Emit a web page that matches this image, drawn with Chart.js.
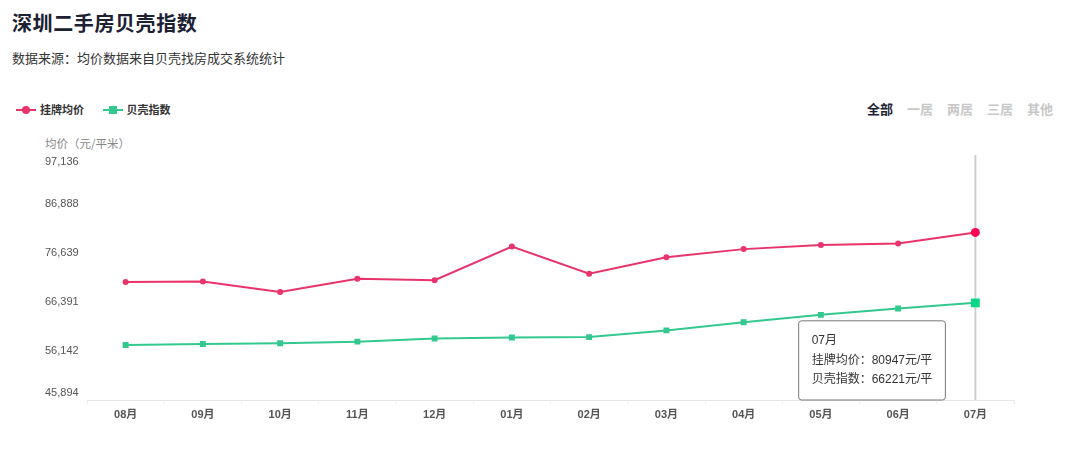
<!DOCTYPE html>
<html>
<head>
<meta charset="utf-8">
<script src="https://cdn.jsdelivr.net/npm/chart.js@4"></script>
<style>
  body { margin:0; width:1080px; height:459px; background:#fff; overflow:hidden;
         font-family:"Liberation Sans","Noto Sans CJK SC",sans-serif; position:relative; }
  .title { position:absolute; left:12px; top:8px; font-size:20px; font-weight:bold; color:#1b2033;
           font-family:"Noto Sans CJK SC",sans-serif; letter-spacing:0.6px; }
  .sub { position:absolute; left:12px; top:48px; font-size:13px; color:#333;
         font-family:"Noto Sans CJK SC",sans-serif; }
  .legend { position:absolute; top:101px; left:16px; font-size:11px; font-weight:bold; color:#333;
            font-family:"Noto Sans CJK SC",sans-serif; }
  .legend span.item { display:inline-block; margin-right:16px; }
  .mk { display:inline-block; position:relative; width:20px; height:10px; vertical-align:middle; margin-right:4px; top:-1px; }
  .mk i { position:absolute; left:0; top:4px; width:20px; height:2px; }
  .mk b { position:absolute; left:6px; top:1px; width:8px; height:8px; }
  .tabs { position:absolute; top:99px; left:867px; font-size:13px; font-family:"Noto Sans CJK SC",sans-serif;
          color:#c8c8c8; font-weight:bold; white-space:nowrap; }
  .tabs span { display:inline-block; width:40px; }
  .tabs span.on { color:#1b2033; }
  .ytitle { position:absolute; left:45px; top:135px; font-size:11.5px; color:#888;
            font-family:"Noto Sans CJK SC",sans-serif; }
  #wrap { position:absolute; left:0; top:135px; width:1080px; height:295px; }
</style>
</head>
<body>
<div class="title">深圳二手房贝壳指数</div>
<div class="sub">数据来源：均价数据来自贝壳找房成交系统统计</div>
<div class="legend">
  <span class="item"><span class="mk"><i style="background:#e8336b"></i><b style="background:#e8336b;border-radius:50%"></b></span>挂牌均价</span>
  <span class="item"><span class="mk"><i style="background:#33c98e"></i><b style="background:#33c98e"></b></span>贝壳指数</span>
</div>
<div class="tabs"><span class="on">全部</span><span>一居</span><span>两居</span><span>三居</span><span>其他</span></div>
<div class="ytitle">均价（元/平米）</div>
<div id="wrap"><canvas id="c"></canvas></div>
<script>
const months = ['08月','09月','10月','11月','12月','01月','02月','03月','04月','05月','06月','07月']
const listPrice = [70574, 70678, 68482, 71250, 70950, 78000, 72300, 75750, 77450, 78300, 78620, 80947]
const beikeIndex = [57397, 57606, 57750, 58100, 58750, 58950, 59050, 60450, 62150, 63700, 65050, 66221]
const yTicks = [45894, 56142.4, 66390.8, 76639.2, 86887.6, 97136]
const yLabels = ['45,894', '56,142', '66,391', '76,639', '86,888', '97,136']

const pink = '#e8336b'
const green = '#33c98e'
const font = '"Liberation Sans","Noto Sans CJK SC",sans-serif'

Chart.Tooltip.positioners.leftOfPoint = function(items) {
  if (!items.length) return false
  const el = items[0].element
  return { x: el.x - 33, y: this.chart.chartArea.bottom }
}

// vertical hover line
const crosshair = {
  id: 'crosshair',
  beforeDatasetsDraw(chart) {
    const act = chart.getActiveElements()
    if (!act.length) return
    const x = act[0].element.x
    const ctx = chart.ctx
    ctx.save()
    ctx.strokeStyle = '#cfcfcf'
    ctx.lineWidth = 2
    ctx.beginPath()
    ctx.moveTo(x, chart.chartArea.top)
    ctx.lineTo(x, chart.chartArea.bottom)
    ctx.stroke()
    ctx.restore()
  }
}

const chart = new Chart(document.getElementById('c'), {
  type: 'line',
  data: {
    labels: months,
    datasets: [{
      label: '挂牌均价',
      data: listPrice,
      borderColor: pink,
      backgroundColor: pink,
      borderWidth: 2,
      pointStyle: 'circle',
      pointRadius: 3,
      pointHoverRadius: 4.5,
      pointBorderWidth: 0,
      pointHoverBorderWidth: 0,
      tension: 0
    }, {
      label: '贝壳指数',
      data: beikeIndex,
      borderColor: green,
      backgroundColor: green,
      borderWidth: 2,
      pointStyle: 'rect',
      pointRadius: 4.2,
      pointHoverRadius: 6.2,
      pointBorderWidth: 0,
      pointHoverBorderWidth: 0,
      tension: 0
    }]
  },
  options: {
    responsive: true,
    maintainAspectRatio: false,
    animation: false,
    events: [],
    layout: { padding: { left: 45, right: 66, top: 20, bottom: 0 } },
    plugins: {
      legend: { display: false },
      tooltip: {
        enabled: true,
        position: 'leftOfPoint',
        xAlign: 'right',
        yAlign: 'bottom',
        caretSize: 0,
        caretPadding: 0,
        cornerRadius: 3,
        backgroundColor: '#fff',
        borderColor: '#777',
        borderWidth: 1,
        titleColor: '#333',
        bodyColor: '#333',
        titleFont: { family: font, size: 12, weight: 'normal' },
        bodyFont: { family: font, size: 12 },
        titleMarginBottom: 5,
        bodySpacing: 5,
        padding: { x: 13, y: 13 },
        displayColors: false,
        callbacks: {
          label: (item) => item.dataset.label + '：' + item.raw + '元/平'
        }
      }
    },
    scales: {
      x: {
        offset: true,
        border: { color: '#e6e6e6' },
        grid: { offset: true, drawOnChartArea: false, color: '#eeeeee', tickLength: 4 },
        ticks: { color: '#555', font: { family: font, size: 11, weight: 'bold' }, padding: 4 },
        afterFit: (s) => { s.height = 30 }
      },
      y: {
        min: yTicks[0],
        max: yTicks[yTicks.length - 1],
        border: { display: false },
        grid: { display: false },
        afterBuildTicks: (s) => { s.ticks = yTicks.map(v => ({ value: v })) },
        afterFit: (s) => { s.width = 42 },
        ticks: {
          crossAlign: 'far',
          padding: 0,
          color: '#555',
          font: { family: font, size: 11 },
          // end labels are nudged inside the plot like the original
          callback: (v, i) => i === 0 ? [yLabels[i], ''] : i === yLabels.length - 1 ? ['', yLabels[i]] : yLabels[i]
        }
      }
    }
  },
  plugins: [crosshair]
})

const last = months.length - 1
const act = [{ datasetIndex: 0, index: last }, { datasetIndex: 1, index: last }]
chart.setActiveElements(act)
const p = chart.getDatasetMeta(0).data[last]
chart.tooltip.setActiveElements(act, { x: p.x, y: p.y })
chart.update('none')
</script>
</body>
</html>
